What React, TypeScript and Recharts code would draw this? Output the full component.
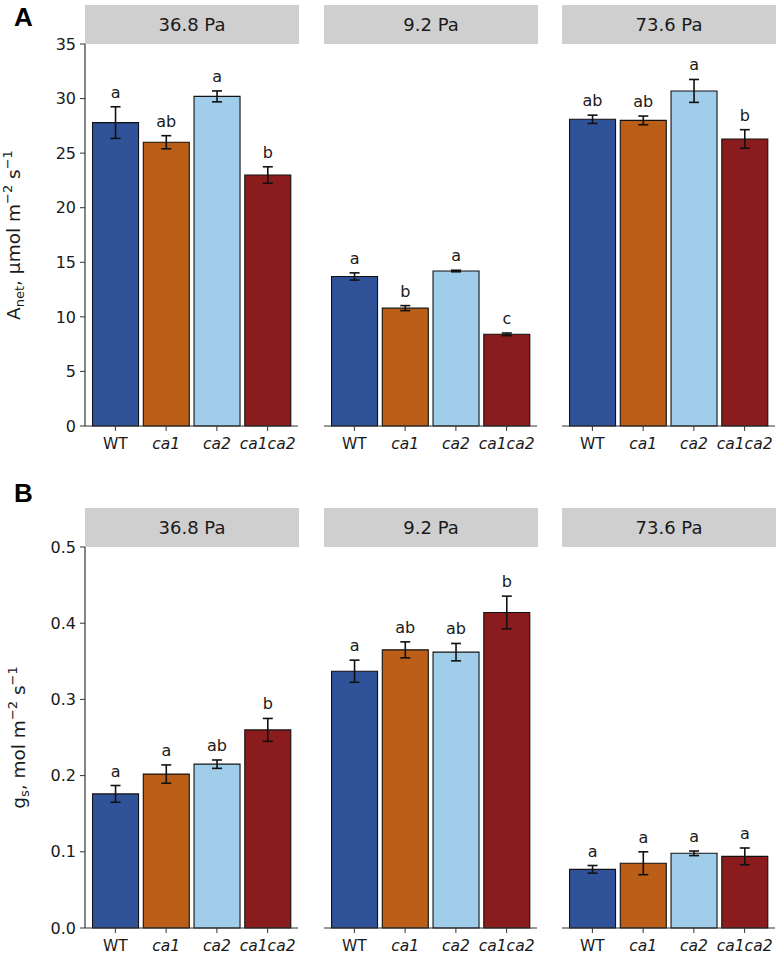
import React from 'react'
import {
  BarChart,
  Bar,
  XAxis,
  YAxis,
  Cell,
  ErrorBar,
  LabelList,
} from 'recharts'

const FONT = '"DejaVu Sans", "Liberation Sans", Arial, sans-serif'
const INK = '#1a1a1a'
const LINE = '#333333'

const genotypes = ['WT', 'ca1', 'ca2', 'ca1ca2']
const facets = ['36.8 Pa', '9.2 Pa', '73.6 Pa']
const COLORS = ['#2f5299', '#bb5e17', '#a0cdea', '#8b1c1e']

// A_net (µmol m-2 s-1), one row per facet
const anetMean = [
  [27.8, 26.0, 30.2, 23.0],
  [13.7, 10.8, 14.2, 8.4],
  [28.1, 28.0, 30.7, 26.3],
]
const anetErr = [
  [1.45, 0.6, 0.5, 0.75],
  [0.33, 0.23, 0.07, 0.12],
  [0.38, 0.4, 1.05, 0.85],
]
const anetLetters = [
  ['a', 'ab', 'a', 'b'],
  ['a', 'b', 'a', 'c'],
  ['ab', 'ab', 'a', 'b'],
]
const anetTicks = [0, 5, 10, 15, 20, 25, 30, 35]

// g_s (mol m-2 s-1)
const gsMean = [
  [0.176, 0.202, 0.215, 0.26],
  [0.337, 0.365, 0.362, 0.414],
  [0.077, 0.085, 0.098, 0.094],
]
const gsErr = [
  [0.011, 0.012, 0.0055, 0.015],
  [0.0145, 0.0105, 0.0114, 0.0215],
  [0.005, 0.015, 0.003, 0.011],
]
const gsLetters = [
  ['a', 'a', 'ab', 'b'],
  ['a', 'ab', 'ab', 'b'],
  ['a', 'a', 'a', 'a'],
]
const gsTicks = [0, 0.1, 0.2, 0.3, 0.4, 0.5]

const PLOT_W = 213
const Y_AXIS_W = 85
const PANEL_LEFT = [85, 324, 562]
const TOP_PAD = 12

type Row = { g: string; mean: number; err: number; letter: string }

const buildRows = (means: number[], errs: number[], letters: string[]): Row[] =>
  genotypes.map((g, i) => ({ g, mean: means[i], err: errs[i], letter: letters[i] }))

const GenoTick = (props: any) => {
  const { x, y, payload } = props
  return (
    <text
      x={x}
      y={y + 16}
      textAnchor="middle"
      fontSize={15.5}
      fontFamily={FONT}
      fill={INK}
      fontStyle={payload.value === 'WT' ? 'normal' : 'italic'}
    >
      {payload.value}
    </text>
  )
}

const makeLetter = (rows: Row[]) => (props: any) => {
  const vb = props.viewBox || props
  const x = vb.x ?? props.x
  const y = vb.y ?? props.y
  const w = vb.width ?? props.width
  const h = vb.height ?? props.height
  const d = rows[props.index]
  if (!d) return null
  const ppu = Math.abs(h) / d.mean
  const errTop = Math.min(y, y + h) - d.err * ppu
  return (
    <text
      x={x + w / 2}
      y={errTop - 9}
      textAnchor="middle"
      fontSize={16}
      fontFamily={FONT}
      fill={INK}
    >
      {d.letter}
    </text>
  )
}

function Facet({
  idx,
  plotTop,
  plotH,
  rows,
  domain,
  ticks,
  fmt,
  yTitle,
  titleX,
}: {
  idx: number
  plotTop: number
  plotH: number
  rows: Row[]
  domain: [number, number]
  ticks: number[]
  fmt: (v: number) => string
  yTitle?: React.ReactNode
  titleX?: number
}) {
  const first = idx === 0
  const chartLeft = first ? 0 : PANEL_LEFT[idx] - 1
  const width = (first ? Y_AXIS_W : 1) + PLOT_W + 2
  const height = TOP_PAD + plotH + 32

  return (
    <div style={{ position: 'absolute', left: chartLeft, top: plotTop - TOP_PAD }}>
      <BarChart
        width={width}
        height={height}
        data={rows}
        margin={{ top: TOP_PAD, right: 2, bottom: 0, left: first ? 0 : 1 }}
        barCategoryGap="5%"
      >
        <XAxis
          dataKey="g"
          height={32}
          padding={{ left: 5, right: 5 }}
          axisLine={{ stroke: LINE, strokeWidth: 1.2 }}
          tickLine={{ stroke: LINE }}
          tickSize={5}
          tick={<GenoTick />}
          interval={0}
        />
        <XAxis
          xAxisId="top"
          dataKey="g"
          orientation="top"
          height={0}
          tick={false}
          tickLine={false}
          axisLine={{ stroke: LINE, strokeWidth: 1.2 }}
        />
        {first ? (
          <YAxis
            width={Y_AXIS_W}
            domain={domain}
            ticks={ticks}
            tickFormatter={fmt}
            interval={0}
            tickSize={5}
            tickMargin={4}
            axisLine={{ stroke: LINE, strokeWidth: 1.2 }}
            tickLine={{ stroke: LINE }}
            tick={{ fontSize: 16, fontFamily: FONT, fill: INK }}
            label={(p: any) => {
              const vb = p.viewBox || {}
              const cy = (vb.y ?? TOP_PAD) + (vb.height ?? plotH) / 2
              const cx = titleX ?? 20
              return (
                <text
                  x={cx}
                  y={cy}
                  transform={`rotate(-90, ${cx}, ${cy})`}
                  textAnchor="middle"
                  fontSize={18.5}
                  fontFamily={FONT}
                  fill={INK}
                >
                  {yTitle}
                </text>
              )
            }}
          />
        ) : (
          <YAxis
            width={0}
            domain={domain}
            ticks={ticks}
            tick={false}
            tickLine={false}
            axisLine={{ stroke: LINE, strokeWidth: 1.2 }}
          />
        )}
        <YAxis
          yAxisId="right"
          orientation="right"
          width={0}
          domain={domain}
          tick={false}
          tickLine={false}
          axisLine={{ stroke: LINE, strokeWidth: 1.2 }}
        />
        <Bar dataKey="mean" isAnimationActive={false} stroke="#111" strokeWidth={1.1}>
          {rows.map((r, i) => (
            <Cell key={r.g} fill={COLORS[i % COLORS.length]} />
          ))}
          <ErrorBar dataKey="err" width={5} stroke="#111" strokeWidth={1.6} direction="y" />
          <LabelList dataKey="letter" content={makeLetter(rows)} />
        </Bar>
      </BarChart>
    </div>
  )
}

const Strip = ({ idx, top, label }: { idx: number; top: number; label: string }) => (
  <div
    style={{
      position: 'absolute',
      left: PANEL_LEFT[idx],
      top,
      width: PLOT_W + 1,
      height: 39,
      background: '#cfcfcf',
      color: INK,
      fontFamily: FONT,
      fontSize: 18,
      lineHeight: '39px',
      textAlign: 'center',
    }}
  >
    {label}
  </div>
)

const PanelTag = ({ top, text }: { top: number; text: string }) => (
  <div
    style={{
      position: 'absolute',
      left: 14,
      top,
      fontFamily: '"Liberation Sans", Arial, sans-serif',
      fontWeight: 'bold',
      fontSize: 26,
      lineHeight: '26px',
      color: '#000',
    }}
  >
    {text}
  </div>
)

const anetTitle = (
  <>
    <tspan>A</tspan>
    <tspan dy={4} fontSize={13}>net</tspan>
    <tspan dy={-4}>, μmol m</tspan>
    <tspan dy={-8} fontSize={13}>−2</tspan>
    <tspan dy={8}> s</tspan>
    <tspan dy={-8} fontSize={13}>−1</tspan>
  </>
)

const gsTitle = (
  <>
    <tspan>g</tspan>
    <tspan dy={4} fontSize={13}>s</tspan>
    <tspan dy={-4}>, mol m</tspan>
    <tspan dy={-8} fontSize={13}>−2</tspan>
    <tspan dy={8}> s</tspan>
    <tspan dy={-8} fontSize={13}>−1</tspan>
  </>
)

export default function App() {
  return (
    <div
      style={{
        position: 'absolute',
        left: 0,
        top: 0,
        width: 778,
        height: 956,
        background: '#fff',
        overflow: 'hidden',
      }}
    >
      <PanelTag top={4} text="A" />
      <PanelTag top={480} text="B" />
      {facets.map((f, i) => (
        <React.Fragment key={'a' + f}>
          <Strip idx={i} top={5} label={f} />
          <Facet
            idx={i}
            plotTop={44}
            plotH={382}
            rows={buildRows(anetMean[i], anetErr[i], anetLetters[i])}
            domain={[0, 35]}
            ticks={anetTicks}
            fmt={(v) => String(v)}
            yTitle={anetTitle}
            titleX={20}
          />
        </React.Fragment>
      ))}
      {facets.map((f, i) => (
        <React.Fragment key={'b' + f}>
          <Strip idx={i} top={508} label={f} />
          <Facet
            idx={i}
            plotTop={547}
            plotH={381}
            rows={buildRows(gsMean[i], gsErr[i], gsLetters[i])}
            domain={[0, 0.5]}
            ticks={gsTicks}
            fmt={(v) => v.toFixed(1)}
            yTitle={gsTitle}
            titleX={25}
          />
        </React.Fragment>
      ))}
    </div>
  )
}
